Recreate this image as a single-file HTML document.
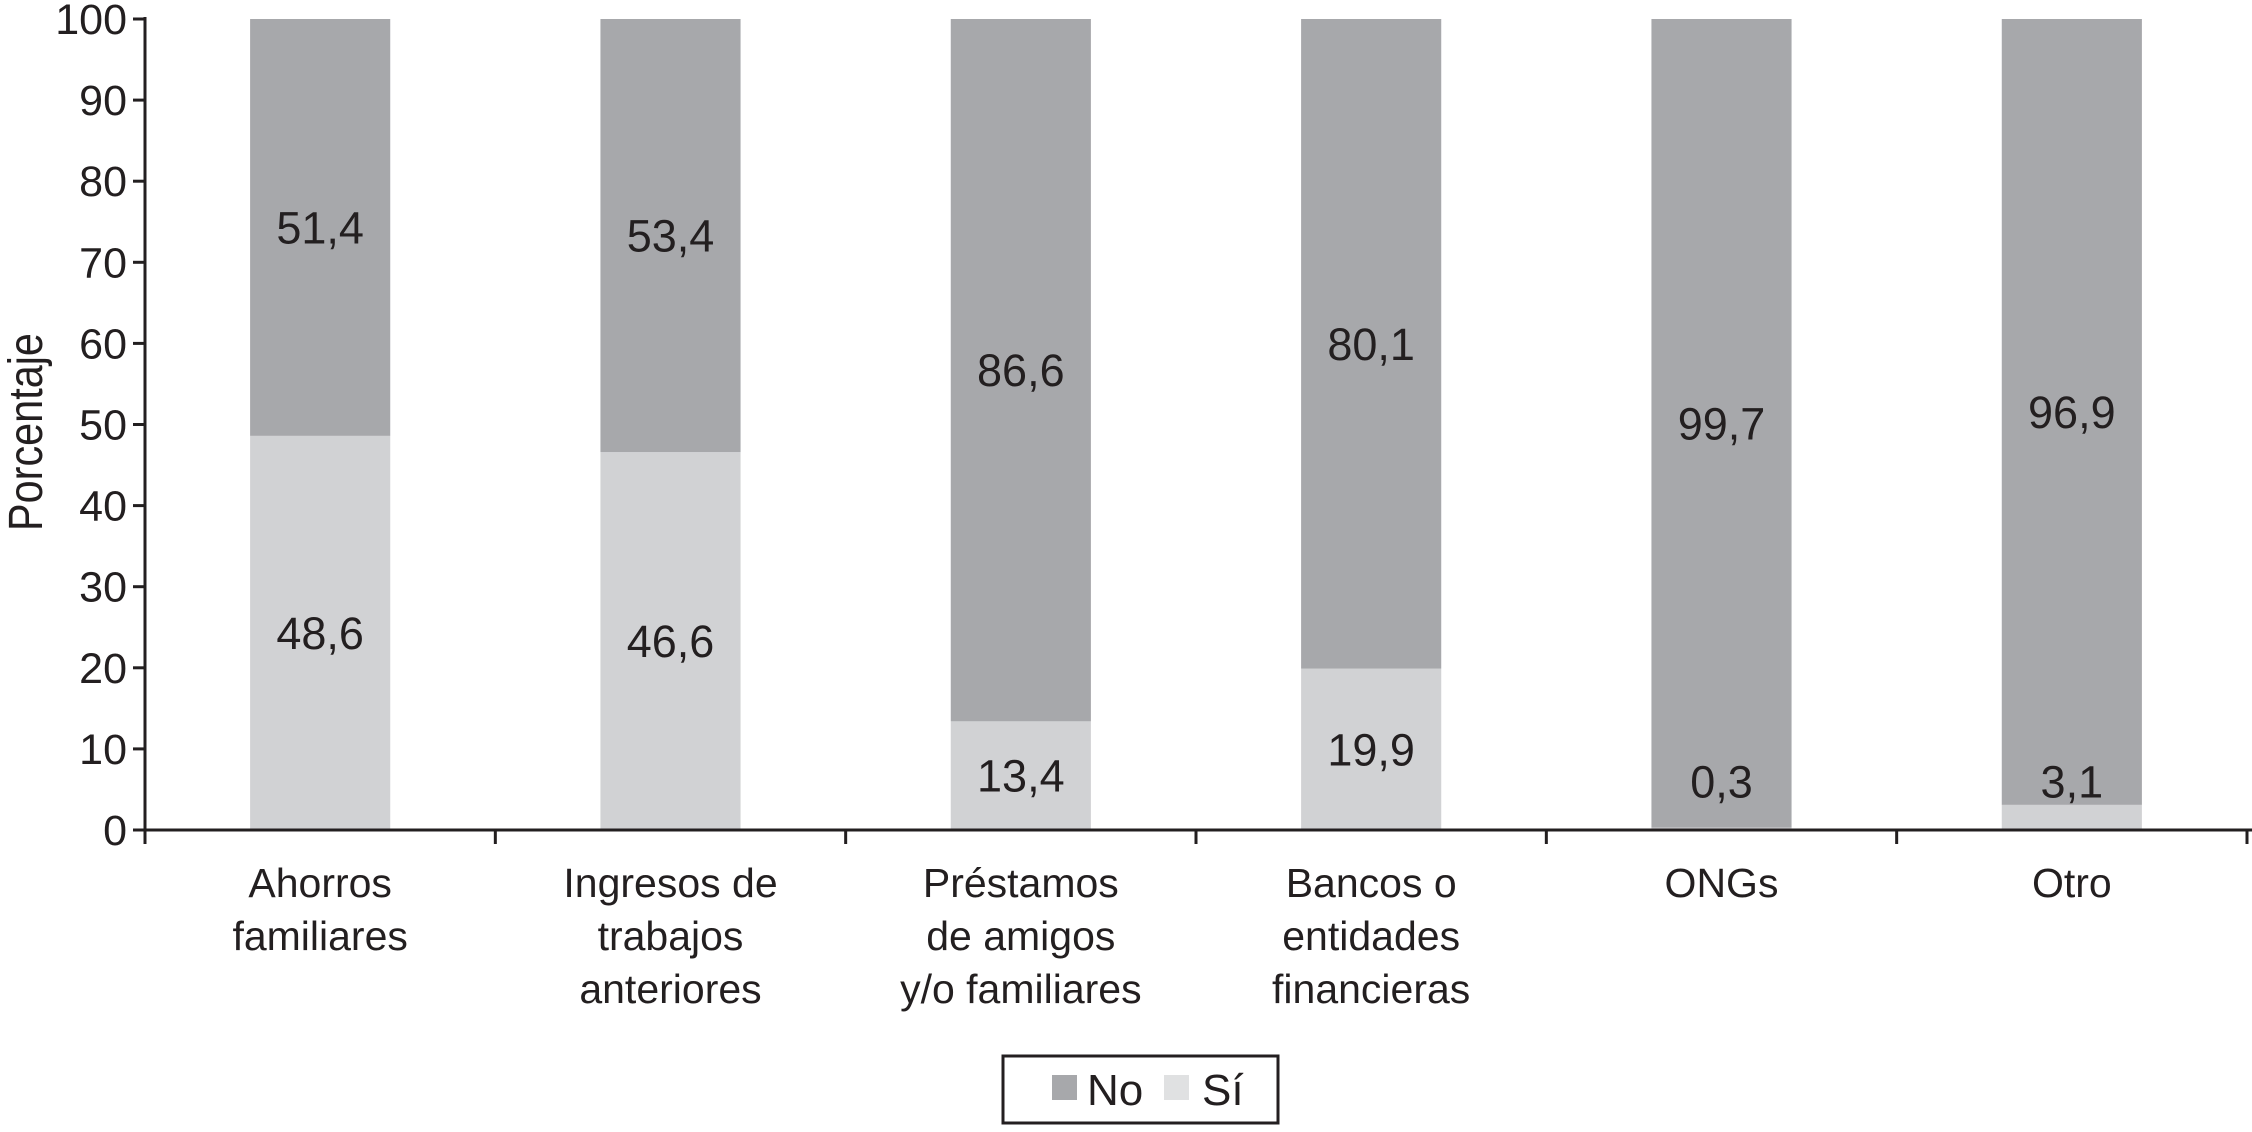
<!DOCTYPE html>
<html><head><meta charset="utf-8"><style>
body{margin:0;background:#fff}
svg text{font-family:"Liberation Sans",sans-serif;fill:#231f20}
</style></head><body>
<svg id="c" width="2252" height="1127" xmlns="http://www.w3.org/2000/svg"></svg>
<script>
const categories=[["Ahorros","familiares"],["Ingresos de","trabajos","anteriores"],["Préstamos","de amigos","y/o familiares"],["Bancos o","entidades","financieras"],["ONGs"],["Otro"]];
const siValues=[48.6,46.6,13.4,19.9,0.3,3.1];
const noValues=[51.4,53.4,86.6,80.1,99.7,96.9];
const siLabels=["48,6","46,6","13,4","19,9","0,3","3,1"];
const noLabels=["51,4","53,4","86,6","80,1","99,7","96,9"];
const yTicks=[0,10,20,30,40,50,60,70,80,90,100];

const svg=document.getElementById('c');
const NS='http://www.w3.org/2000/svg';
const X0=145,X1=2247,Y0=830,Y1=19;
const cw=(X1-X0)/categories.length, bw=cw*0.4;
const y=v=>Y0-(v/100)*(Y0-Y1);
const xc=i=>X0+cw*(i+0.5);
function el(t,a,txt){const e=document.createElementNS(NS,t);for(const k in a)e.setAttribute(k,a[k]);if(txt!=null)e.textContent=txt;svg.appendChild(e);return e;}

categories.forEach((c,i)=>{
  const s=siValues[i],n=noValues[i];
  let r=el('rect',{x:xc(i)-bw/2,y:y(s),width:bw,height:Y0-y(s),fill:'#d1d2d4'});
  
  
  r=el('rect',{x:xc(i)-bw/2,y:y(s+n),width:bw,height:y(s)-y(s+n),fill:'#a7a8ab'});
  
  
  let t=el('text',{x:xc(i),y:y(Math.max(s/2,6))+16,'font-size':45,'text-anchor':'middle'},siLabels[i]);
  
  
  t=el('text',{x:xc(i),y:y(s+n/2)+16,'font-size':45,'text-anchor':'middle'},noLabels[i]);
  
  
  c.forEach((ln,j)=>{
    const l=el('text',{x:xc(i),y:897+j*53,'font-size':41,'text-anchor':'middle'},ln);
    
    
  });
});
let a=el('line',{x1:X0,y1:Y1-2,x2:X0,y2:Y0+14,stroke:'#231f20','stroke-width':3});


a=el('line',{x1:X0,y1:Y0,x2:X1+5,y2:Y0,stroke:'#231f20','stroke-width':3});


for(let i=1;i<=categories.length;i++){
  const k=el('line',{x1:X0+cw*i,y1:Y0,x2:X0+cw*i,y2:Y0+14,stroke:'#231f20','stroke-width':3});
  
  
}
yTicks.forEach(v=>{
  const k=el('line',{x1:X0-12,y1:y(v),x2:X0,y2:y(v),stroke:'#231f20','stroke-width':3});
  
  
  const t=el('text',{x:X0-18,y:y(v)+15,'font-size':43,'text-anchor':'end'},String(v));
  
  
});
let yt=el('text',{x:0,y:0,'font-size':46,'text-anchor':'middle',transform:'translate(42,432) rotate(-90) scale(0.9,1.05)'},'Porcentaje');


let lg=el('rect',{x:1003,y:1056,width:275,height:67,fill:'#fff',stroke:'#231f20','stroke-width':3});


let sw=el('rect',{x:1052,y:1075,width:25,height:25,fill:'#a7a8ab'});


let lt=el('text',{x:1087,y:1105,'font-size':44},'No');


sw=el('rect',{x:1164,y:1075,width:25,height:25,fill:'#e0e1e2'});


lt=el('text',{x:1202,y:1105,'font-size':44},'Sí');


</script>
</body></html>
